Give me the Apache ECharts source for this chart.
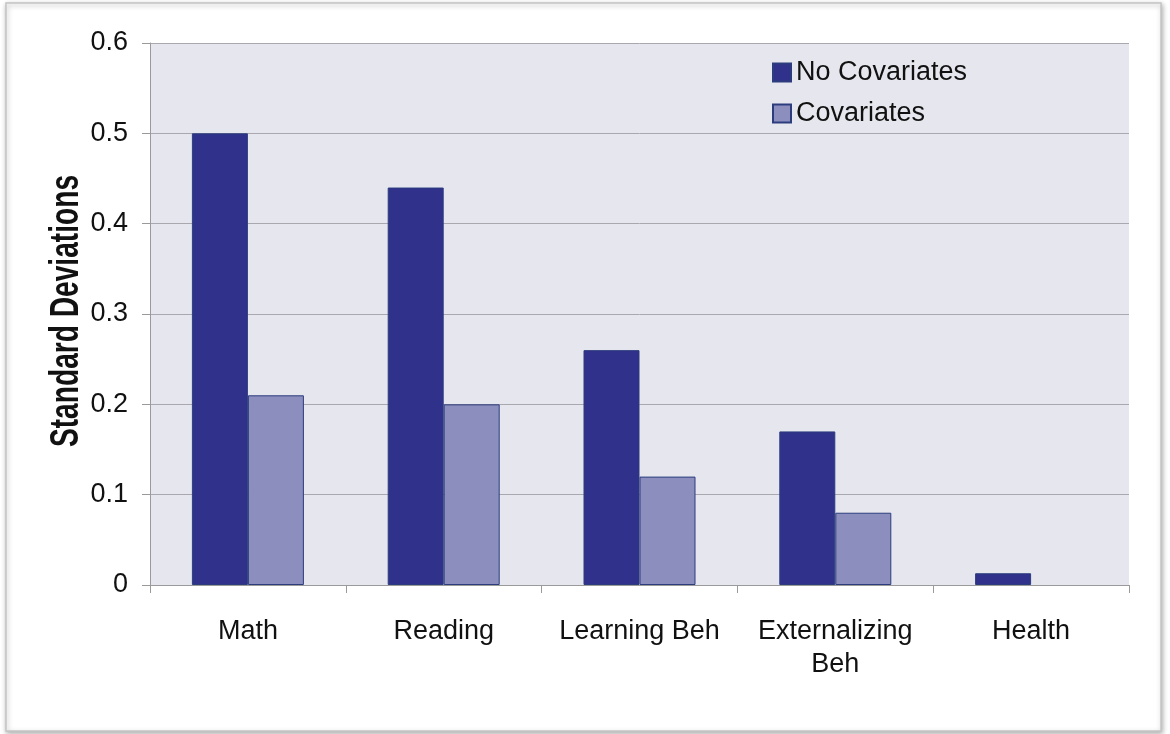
<!DOCTYPE html>
<html>
<head>
<meta charset="utf-8">
<script src="https://cdn.jsdelivr.net/npm/echarts@6/dist/echarts.min.js"></script>
<style>
  html, body { margin: 0; padding: 0; background: #ffffff; }
  #chart { width: 1170px; height: 734px; }
</style>
</head>
<body>
<div id="chart"></div>
<script>
// Effect sizes by outcome, with and without covariates
const categories = ['Math', 'Reading', 'Learning Beh', 'Externalizing\nBeh', 'Health'];
const noCovariates = [0.50, 0.44, 0.26, 0.17, 0.013];
const covariates = [0.21, 0.20, 0.12, 0.08, null];
const seriesNames = ['No Covariates', 'Covariates'];
const yAxisTitle = 'Standard Deviations';

const darkBar = '#30318a';
const lightBar = '#8c8ebd';
const barEdge = '#2c3d7e';

const chart = echarts.init(document.getElementById('chart'), null, { renderer: 'canvas' });

chart.setOption({
  backgroundColor: '#ffffff',
  animation: false,
  textStyle: { fontFamily: 'Liberation Sans, Arial, sans-serif' },
  graphic: [
    {
      // page frame with a soft drop shadow
      type: 'rect',
      z: -10,
      shape: { x: 6, y: 3, width: 1155, height: 728 },
      style: {
        fill: '#ffffff',
        stroke: '#c4c4c4',
        lineWidth: 1.5,
        shadowBlur: 5,
        shadowOffsetX: 1,
        shadowOffsetY: 2,
        shadowColor: 'rgba(0,0,0,0.30)'
      }
    },
    {
      // rotated, condensed axis title
      type: 'text',
      x: 67,
      y: 311,
      rotation: Math.PI / 2,
      scaleX: 0.67,
      scaleY: 0.95,
      style: {
        text: yAxisTitle,
        fontFamily: 'Liberation Sans, Arial, sans-serif',
        fontWeight: 'bold',
        fontSize: 42,
        fill: '#111111',
        textAlign: 'center',
        textVerticalAlign: 'middle'
      }
    }
  ],
  legend: {
    orient: 'vertical',
    left: 767,
    top: 54,
    icon: 'rect',
    itemWidth: 18,
    itemHeight: 18,
    itemGap: 14,
    data: seriesNames,
    textStyle: {
      fontSize: 27,
      lineHeight: 26,
      color: '#111111',
      fontFamily: 'Liberation Sans, Arial, sans-serif'
    }
  },
  grid: {
    left: 150,
    right: 41,
    top: 43,
    bottom: 149,
    show: true,
    backgroundColor: '#e6e7ee',
    borderWidth: 0
  },
  xAxis: {
    type: 'category',
    data: categories,
    axisLine: { show: true, lineStyle: { color: '#9a9a9a', width: 1 } },
    axisTick: { show: true, length: 8, alignWithLabel: false, lineStyle: { color: '#9a9a9a' } },
    axisLabel: {
      interval: 0,
      margin: 30,
      fontSize: 27,
      lineHeight: 33,
      color: '#111111',
      fontFamily: 'Liberation Sans, Arial, sans-serif'
    },
    splitLine: { show: false }
  },
  yAxis: {
    type: 'value',
    min: 0,
    max: 0.6,
    interval: 0.1,
    axisLine: { show: true, lineStyle: { color: '#9a9a9a', width: 1 } },
    axisTick: { show: true, length: 8, lineStyle: { color: '#9a9a9a' } },
    axisLabel: {
      margin: 22,
      fontSize: 27,
      color: '#111111',
      fontFamily: 'Liberation Sans, Arial, sans-serif',
      formatter: function (v) { return String(Math.round(v * 10) / 10); }
    },
    splitLine: { show: true, lineStyle: { color: '#a8a8ae', width: 1 } }
  },
  series: [
    {
      name: seriesNames[0],
      type: 'bar',
      data: noCovariates,
      barWidth: 56,
      barGap: '0%',
      itemStyle: { color: darkBar, borderColor: barEdge, borderWidth: 1 }
    },
    {
      name: seriesNames[1],
      type: 'bar',
      data: covariates,
      barWidth: 56,
      barGap: '0%',
      itemStyle: { color: lightBar, borderColor: barEdge, borderWidth: 1 }
    }
  ]
});
</script>
</body>
</html>
